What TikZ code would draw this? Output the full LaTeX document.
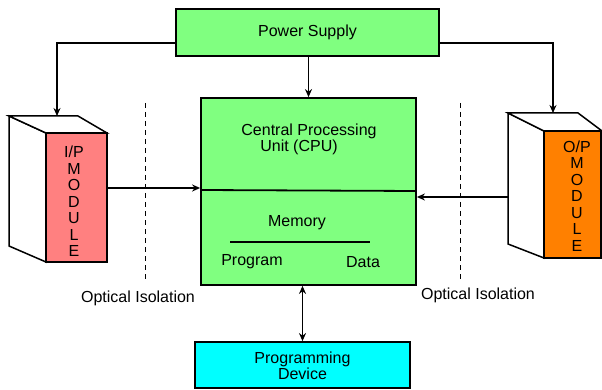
\documentclass[tikz,border=0pt]{standalone}
\usepackage{fontspec}
\setmainfont{Liberation Sans}
\usetikzlibrary{arrows.meta}
\definecolor{boxgreen}{HTML}{80FF80}
\definecolor{boxcyan}{HTML}{00FFFF}
\definecolor{ipred}{HTML}{FF8080}
\definecolor{oporange}{HTML}{FF8000}
\tikzset{
  unitbox/.style={draw=black, line width=1.8pt, inner sep=0pt},
  face/.style={draw=black, line width=1.5pt, line join=miter},
  arr/.style={line width=1.5pt, -{Stealth[length=8pt,width=7pt]}},
  dblarr/.style={line width=1.5pt, {Stealth[length=8pt,width=7pt]}-{Stealth[length=8pt,width=7pt]}},
  isoline/.style={line width=0.8pt, dash pattern=on 5pt off 4pt},
  lbl/.style={inner sep=0pt, font=\fontsize{16}{16.5}\selectfont, align=center}
}
\begin{document}
\begin{tikzpicture}[x=1pt, y=-1pt]
  \useasboundingbox (0,0) rectangle (602,390);

  % main blocks
  \node[unitbox, fill=boxgreen, minimum width=263pt, minimum height=47pt] (ps) at (307.5,32.5) {};
  \node[lbl] (pstext) at (307.5,32) {Power Supply};
  \node[unitbox, fill=boxgreen, minimum width=215pt, minimum height=187pt] (cpu) at (308.5,191.5) {};
  \node[unitbox, fill=boxcyan, minimum width=215pt, minimum height=46pt] (pd) at (302.5,365) {};
  \node[lbl] (pdtext) at (302.5,366) {Programming\\Device};

  % CPU contents
  \node[lbl] (cpu1) at (309,131) {Central Processing};
  \node[lbl] (cpu2) at (299,147) {Unit (CPU)};
  \coordinate (divL) at (201,190);
  \coordinate (divR) at (416,191);
  \draw[line width=1.8pt] (divL) -- (divR);
  \node[lbl] (mem) at (297,223) {Memory};
  \coordinate (mlineL) at (230,242);
  \coordinate (mlineR) at (370,242);
  \draw[line width=1.5pt] (mlineL) -- (mlineR);
  \node[lbl] (prog) at (252,262) {Program};
  \node[lbl] (data) at (363,262) {Data};

  % input module
  \draw[face, fill=white] (9,116) -- (46,133) -- (46,262) -- (9,246) -- cycle;
  \draw[face, fill=white] (9,116) -- (78,116) -- (107,133) -- (46,133) -- cycle;
  \node[unitbox, line width=1.5pt, fill=ipred, minimum width=61pt, minimum height=129pt] (ipf) at (76.5,197.5) {};
  \node[lbl] (iptext) at (74,201.5) {I/P\\M\\O\\D\\U\\L\\E};

  % output module
  \draw[face, fill=white] (508,113) -- (544,131) -- (544,258) -- (508,244) -- cycle;
  \draw[face, fill=white] (508,113) -- (578,113) -- (602,131) -- (544,131) -- cycle;
  \node[unitbox, line width=1.5pt, fill=oporange, minimum width=57pt, minimum height=127pt] (opf) at (572.5,194.5) {};
  \node[lbl] (optext) at (577,196) {O/P\\M\\O\\D\\U\\L\\E};

  % connector end points
  \coordinate (psL) at (176,43);
  \coordinate (psR) at (439,43);
  \coordinate (ipTop) at (57,116);
  \coordinate (opTop) at (553,113);
  \coordinate (inY) at (0,188);
  \coordinate (outY) at (0,197);
  \coordinate (opBack) at (508,197);

  % connectors
  \draw[arr] (cpu.north |- ps.south) -- (cpu.north);
  \draw[arr] (psL) -| (ipTop);
  \draw[arr] (psR) -| (opTop);
  \draw[arr] (ipf.east |- inY) -- (cpu.west |- inY);
  \draw[arr] (opBack) -- (cpu.east |- outY);
  \draw[dblarr] (pd.north |- cpu.south) -- (pd.north);

  % optical isolation barriers
  \coordinate (isoLt) at (145,103);
  \coordinate (isoLb) at (145,280);
  \coordinate (isoRt) at (460,103);
  \coordinate (isoRb) at (460,280);
  \draw[isoline] (isoLt) -- (isoLb);
  \draw[isoline] (isoRt) -- (isoRb);
  \node[lbl] (isoL) at (138,298) {Optical Isolation};
  \node[lbl] (isoR) at (478,295) {Optical Isolation};
\end{tikzpicture}
\end{document}
